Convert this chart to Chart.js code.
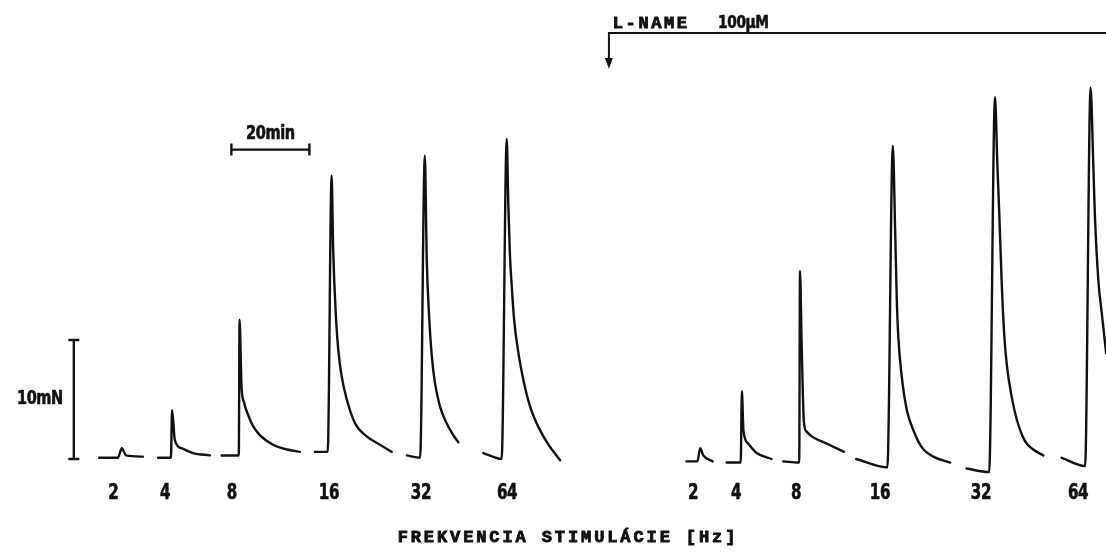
<!DOCTYPE html>
<html>
<head>
<meta charset="utf-8">
<script src="https://cdn.jsdelivr.net/npm/chart.js@4/dist/chart.umd.min.js"></script>
<style>
  html, body { margin: 0; padding: 0; background: #fff; }
  #wrap { width: 1106px; height: 553px; position: relative; }
</style>
</head>
<body>
<div id="wrap"><canvas id="chart"></canvas></div>
<script>
// stimulation frequencies (Hz)
const freqs = ['2', '4', '8', '16', '32', '64'];

// where each frequency label sits along the record (min)
const controlLabelMin = [3.9, 17.2, 34.3, 59.2, 82.8, 104.9];
const lnameLabelMin = [152.6, 163.6, 179.0, 200.5, 226.4, 251.3];

// control contractions, points: [time min, force mN]
const control2 = [[0.3, 0.1], [5.1, 0.1], [6.1, 0.9], [7.2, 0.3], [11.5, 0.2]];
const control4 = [[15.4, 0.1], [18.7, 0.1], [19.0, 4.1], [19.7, 1.6], [21.5, 0.9], [24.4, 0.5], [28.7, 0.3]];
const control8 = [[31.7, 0.3], [36.1, 0.3], [36.3, 11.7], [36.8, 6.1], [37.4, 4.8], [38.5, 3.7], [39.7, 2.8],
                  [41.5, 2.0], [44.9, 1.2], [48.5, 0.8], [51.8, 0.6]];
const control16 = [[55.6, 0.6], [58.9, 0.6], [59.9, 23.8], [60.3, 17.6], [61.0, 12.0], [61.6, 9.2], [62.5, 6.9],
                   [63.8, 5.0], [65.9, 3.0], [68.9, 1.9], [72.3, 1.2], [75.3, 0.6]];
const control32 = [[79.2, 0.3], [82.6, 0.1], [83.8, 25.5], [84.3, 16.7], [84.9, 12.0], [85.6, 8.6], [86.4, 6.4],
                   [87.7, 4.4], [89.4, 3.0], [91.1, 2.0], [92.4, 1.4]];
const control64 = [[98.8, 0.5], [103.5, 0.0], [104.8, 26.9], [105.2, 21.5], [105.6, 17.3], [106.1, 14.5], [106.7, 11.7],
                   [107.8, 8.9], [109.1, 6.6], [110.8, 4.4], [112.9, 2.7], [115.5, 1.2], [118.5, -0.1]];

// after L-NAME 100 uM
const lname2 = [[150.9, -0.2], [153.7, -0.2], [154.4, 0.9], [155.2, 0.3], [157.6, -0.2]];
const lname4 = [[161.2, -0.3], [164.8, -0.3], [165.1, 5.7], [165.5, 2.4], [166.7, 1.3], [168.9, 0.5], [172.7, 0.0]];
const lname8 = [[175.7, -0.2], [179.8, -0.3], [180.0, 15.8], [180.4, 10.0], [181.0, 3.1], [181.7, 2.3], [183.0, 1.9],
                [186.8, 1.3], [191.3, 0.6]];
const lname16 = [[194.4, 0.0], [202.4, -0.7], [203.8, 26.3], [204.4, 19.2], [204.8, 13.6], [205.2, 10.3], [206.1, 6.9],
                 [207.4, 4.1], [209.1, 2.4], [211.2, 1.0], [214.2, 0.2], [218.5, -0.3]];
const lname32 = [[222.7, -0.8], [228.5, -1.1], [230.0, 30.4], [230.6, 24.8], [231.1, 20.6], [231.7, 15.0], [232.3, 10.8],
                 [233.0, 8.0], [234.3, 5.2], [235.6, 3.3], [237.7, 1.5], [239.8, 0.8], [242.4, 0.3]];
const lname64 = [[247.1, 0.1], [253.1, -0.6], [254.5, 31.2], [255.2, 24.8], [255.6, 20.6], [256.5, 15.0], [257.4, 12.2],
                 [258.5, 8.9]];

const traces = [control2, control4, control8, control16, control32, control64,
                lname2, lname4, lname8, lname16, lname32, lname64];

const INK = '#111';
const NARROW = '"Liberation Sans Narrow", "DejaVu Sans Condensed", "Liberation Sans", Arial, sans-serif';
const MONO = '"Liberation Mono", "DejaVu Sans Mono", monospace';

function text(ctx, str, x, y, font, sx, align, spacing, heavy) {
    ctx.save();
    ctx.font = font;
    ctx.fillStyle = INK;
    ctx.strokeStyle = INK;
    ctx.textAlign = align || 'center';
    ctx.textBaseline = 'middle';
    if (spacing) ctx.letterSpacing = spacing;
    ctx.translate(x, y);
    ctx.scale(sx || 1, 1);
    ctx.fillText(str, 0, 0);
    if (heavy) {
        ctx.lineWidth = heavy;
        ctx.strokeText(str, 0, 0);
    }
    ctx.restore();
}

const markings = {
    id: 'markings',
    afterDraw(chart) {
        const ctx = chart.ctx;
        const xs = chart.scales.x, ys = chart.scales.y;
        const px = v => xs.getPixelForValue(v);
        const py = v => ys.getPixelForValue(v);

        ctx.save();
        ctx.strokeStyle = INK;
        ctx.fillStyle = INK;
        ctx.lineWidth = 2.4;
        ctx.lineCap = 'butt';

        // 10 mN calibration bar
        let bx = px(-6.2);
        ctx.beginPath();
        ctx.moveTo(bx, py(0)); ctx.lineTo(bx, py(10));
        ctx.moveTo(bx - 5.5, py(0)); ctx.lineTo(bx + 5.5, py(0));
        ctx.moveTo(bx - 5.5, py(10)); ctx.lineTo(bx + 5.5, py(10));
        ctx.stroke();
        text(ctx, '10mN', px(-14.9), py(5), 'bold 19px ' + NARROW, 0.85, 'center', '-0.5px', 0.6);

        // 20 min time bar
        let ty = py(26.0);
        ctx.beginPath();
        ctx.moveTo(px(34.2), ty); ctx.lineTo(px(54.2), ty);
        ctx.moveTo(px(34.2), ty - 6); ctx.lineTo(px(34.2), ty + 6);
        ctx.moveTo(px(54.2), ty - 6); ctx.lineTo(px(54.2), ty + 6);
        ctx.stroke();
        text(ctx, '20min', px(44.2), py(27.3), 'bold 19px ' + NARROW, 0.85, 'center', '-0.5px', 0.6);

        // L-NAME application marker
        let ly = py(35.8), lx = px(131.0);
        ctx.lineWidth = 2;
        ctx.beginPath();
        ctx.moveTo(xs.right, ly); ctx.lineTo(lx, ly); ctx.lineTo(lx, py(33.6));
        ctx.stroke();
        ctx.beginPath();
        ctx.moveTo(lx - 4, py(33.7)); ctx.lineTo(lx + 4, py(33.7)); ctx.lineTo(lx, py(32.8));
        ctx.closePath();
        ctx.fill();
        text(ctx, 'L-NAME', px(132.0), py(36.6), 'bold 17px ' + MONO, 1, 'left', '2.6px', 0.9);
        text(ctx, '100\u00b5M', px(159.0), py(36.6), 'bold 18px ' + NARROW, 0.85, 'left', '-0.5px', 0.6);

        // frequency labels
        freqs.forEach((f, i) => {
            text(ctx, f, px(controlLabelMin[i]), py(-2.9), 'bold 21px ' + NARROW, 0.8, 'center', '-0.5px', 0.6);
            text(ctx, f, px(lnameLabelMin[i]), py(-2.9), 'bold 21px ' + NARROW, 0.8, 'center', '-0.5px', 0.6);
        });

        // axis title
        text(ctx, 'FREKVENCIA STIMULÁCIE [Hz]', px(120.5), py(-6.6), 'bold 17px ' + MONO, 1, 'center', '2.9px', 0.9);
        ctx.restore();
    }
};

new Chart(document.getElementById('chart'), {
    type: 'scatter',
    data: {
        datasets: traces.map(t => ({
            data: t.map(p => ({ x: p[0], y: p[1] })),
            showLine: true,
            borderColor: INK,
            borderWidth: 2.4,
            borderJoinStyle: 'round',
            borderCapStyle: 'round',
            pointRadius: 0,
            cubicInterpolationMode: 'monotone',
            fill: false
        }))
    },
    options: {
        responsive: true,
        maintainAspectRatio: false,
        animation: false,
        layout: { padding: 0 },
        plugins: { legend: { display: false }, tooltip: { enabled: false } },
        scales: {
            x: { type: 'linear', min: -98 / 3.9, max: 1008 / 3.9, display: false },
            y: { type: 'linear', min: -94 / 11.9, max: 459 / 11.9, display: false }
        }
    },
    plugins: [markings]
});
</script>
</body>
</html>
